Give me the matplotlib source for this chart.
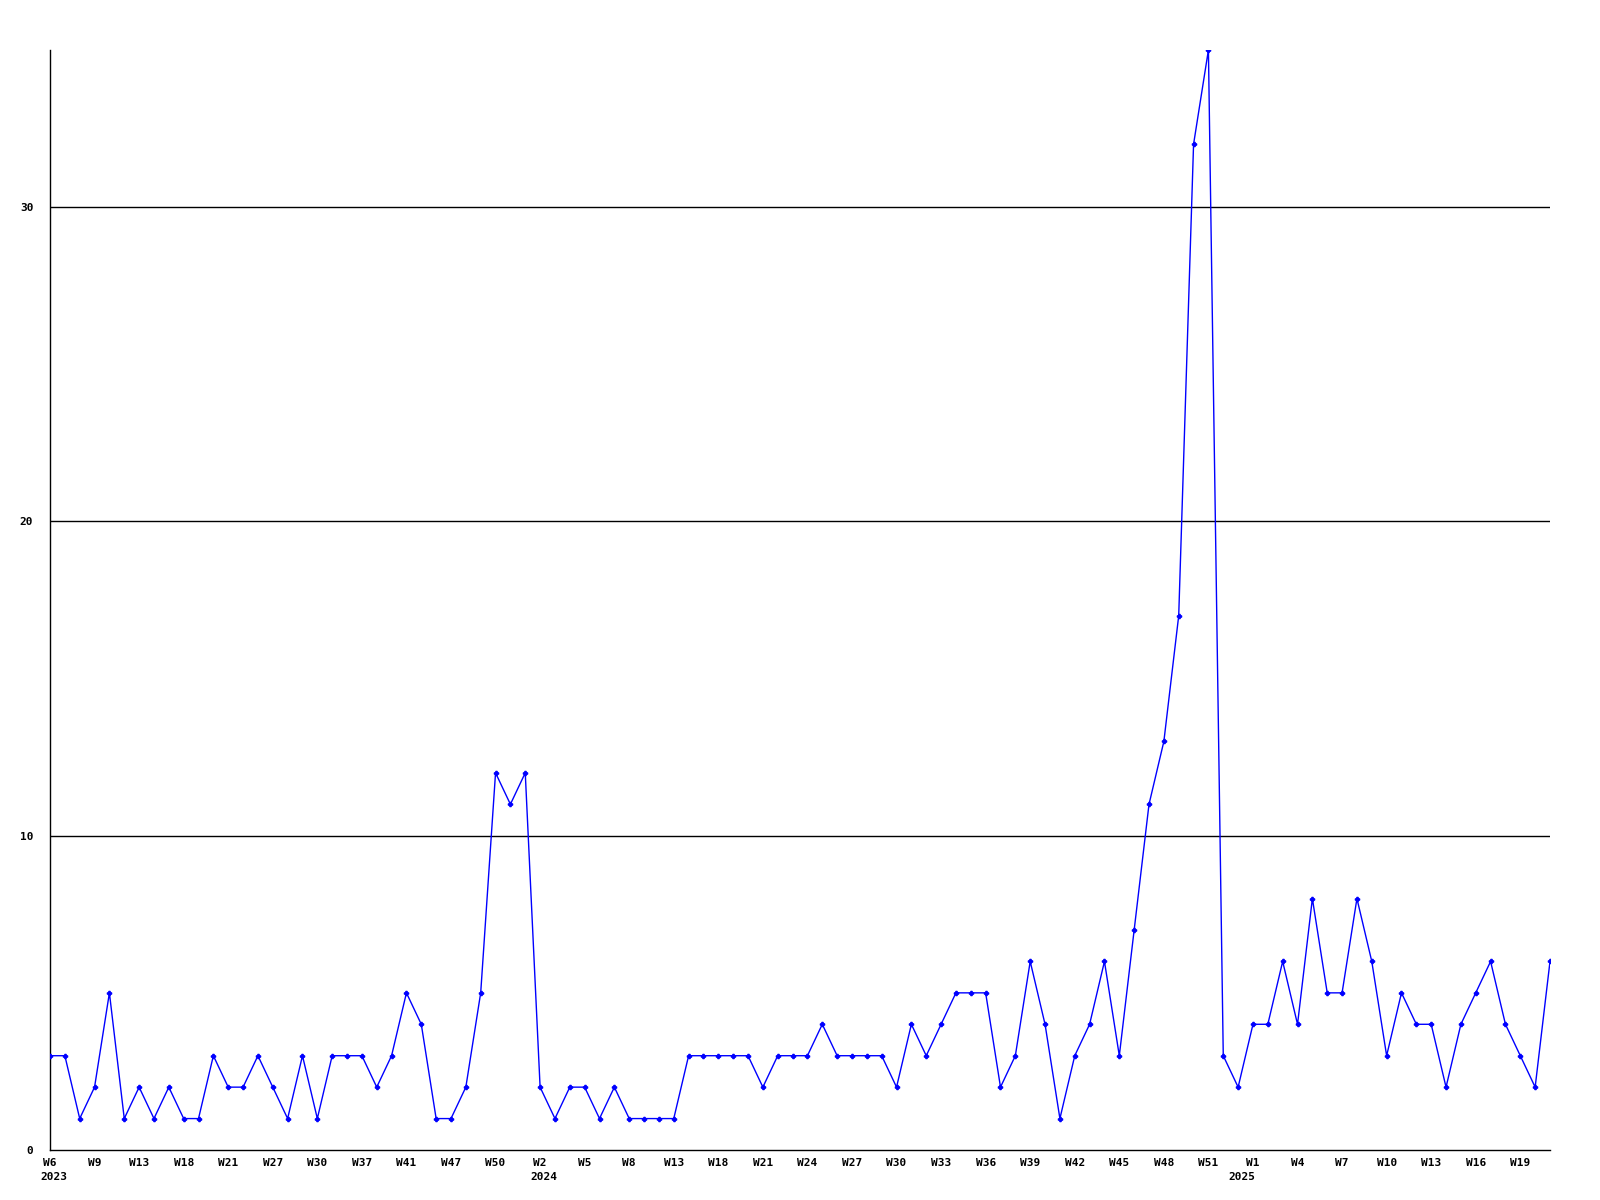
import matplotlib
matplotlib.use('Agg')
import matplotlib.pyplot as plt

# weekly counts, one value per point, Feb 2023 .. May 2025
counts = [3, 3, 1, 2, 5, 1, 2, 1, 2, 1, 1, 3, 2, 2, 3, 2, 1, 3, 1, 3,
          3, 3, 2, 3, 5, 4, 1, 1, 2, 5, 12, 11, 12, 2, 1, 2, 2, 1, 2, 1,
          1, 1, 1, 3, 3, 3, 3, 3, 2, 3, 3, 3, 4, 3, 3, 3, 3, 2, 4, 3,
          4, 5, 5, 5, 2, 3, 6, 4, 1, 3, 4, 6, 3, 7, 11, 13, 17, 32, 35, 3,
          2, 4, 4, 6, 4, 8, 5, 5, 8, 6, 3, 5, 4, 4, 2, 4, 5, 6, 4, 3,
          2, 6]

# a label under every third point
week_labels = ['W6', 'W9', 'W13', 'W18', 'W21', 'W27', 'W30', 'W37', 'W41', 'W47',
               'W50', 'W2', 'W5', 'W8', 'W13', 'W18', 'W21', 'W24', 'W27', 'W30',
               'W33', 'W36', 'W39', 'W42', 'W45', 'W48', 'W51', 'W1', 'W4', 'W7',
               'W10', 'W13', 'W16', 'W19']
years = ['2023', '2024', '2025']
year_pos = [0, 33, 80]

font = {'family': 'DejaVu Sans Mono', 'weight': 'bold', 'size': 8}

fig = plt.figure(figsize=(16, 12), dpi=100)
ax = fig.add_axes([50 / 1600, 50 / 1200, 1500 / 1600, 1100 / 1200])

x = list(range(len(counts)))
for g in [10, 20, 30]:
    ax.axhline(g, color='black', lw=1, zorder=1)
ax.plot(x, counts, color='#0000ff', lw=1, marker='P', markersize=3, zorder=3)

ax.set_xlim(0, len(counts) - 1)
ax.set_ylim(0, 35)
for s in ['top', 'right']:
    ax.spines[s].set_visible(False)
ax.spines['left'].set_linewidth(1)
ax.spines['bottom'].set_linewidth(1)

ax.set_yticks([0, 10, 20, 30])
ax.set_yticklabels(['0', '10', '20', '30'], fontdict=font)
ax.tick_params(axis='y', length=0, pad=12)

ax.set_xticks(list(range(0, len(counts), 3)))
ax.set_xticklabels(week_labels, fontdict=font)
ax.tick_params(axis='x', length=0, pad=6)

for yr, p in zip(years, year_pos):
    ax.text(p + 0.25, -0.0245, yr, transform=ax.get_xaxis_transform(),
            ha='center', va='center', **font)

plt.savefig('out.png', dpi=100)
